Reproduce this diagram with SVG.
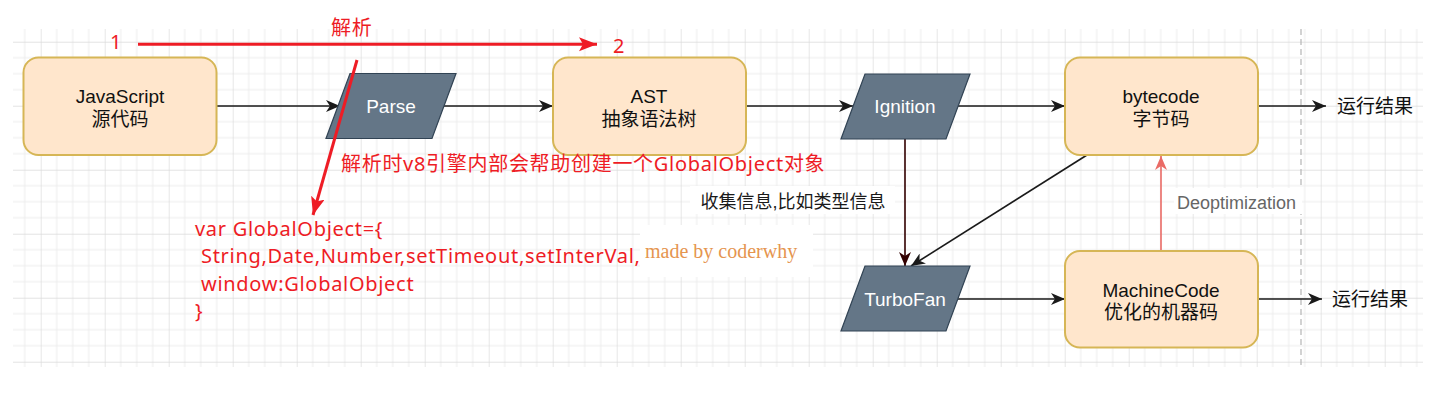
<svg xmlns="http://www.w3.org/2000/svg" width="1449" height="408" viewBox="0 0 1449 408">
<style>
.box{fill:#ffe6cc;stroke:#d6b656;stroke-width:2}
.para{fill:#647687;stroke:#314354;stroke-width:1.2}
.nt{font-family:"Liberation Sans","Noto Sans CJK SC",sans-serif;font-size:19px;fill:#111111;text-anchor:middle}
.wt{font-family:"Liberation Sans",sans-serif;font-size:19px;fill:#ffffff;text-anchor:middle}
.lbl{font-family:"Liberation Sans","Noto Sans CJK SC",sans-serif;font-size:18px;fill:#1a1a1a}
.red{font-family:"Noto Sans","Noto Sans CJK SC",sans-serif;font-size:20px;fill:#ee1c25;letter-spacing:0.7px}
.conn{fill:none;stroke:#1a1a1a;stroke-width:1.6}
.rc{fill:none;stroke:#ee1c25;stroke-width:3}
</style>
<defs>
<pattern id="grid" x="40.7" y="41.7" width="64" height="64" patternUnits="userSpaceOnUse">
<path d="M16,0V64M32,0V64M48,0V64M0,16H64M0,32H64M0,48H64" stroke="#ececec" stroke-width="1" fill="none"/>
<path d="M0,0V64M0,0H64" stroke="#dadada" stroke-width="1.3" fill="none"/>
</pattern>
<marker id="ah" markerUnits="userSpaceOnUse" markerWidth="16" markerHeight="12" refX="14" refY="6" orient="auto">
<path d="M0,0 L14,6 L0,12 L4,6 Z" fill="#1a1a1a"/>
</marker>
<marker id="ahm" markerUnits="userSpaceOnUse" markerWidth="16" markerHeight="12" refX="14" refY="6" orient="auto">
<path d="M0,0 L14,6 L0,12 L4,6 Z" fill="#330000"/>
</marker>
<marker id="ahp" markerUnits="userSpaceOnUse" markerWidth="16" markerHeight="12" refX="14" refY="6" orient="auto">
<path d="M0,0 L14,6 L0,12 L4,6 Z" fill="#ea6b66"/>
</marker>
<marker id="ahr" markerUnits="userSpaceOnUse" markerWidth="20" markerHeight="16" refX="18" refY="7" orient="auto">
<path d="M0,0 L18,7 L0,14 L4,7 Z" fill="#ee1c25"/>
</marker>
</defs>
<rect x="13" y="29" width="1410" height="338" fill="#ffffff"/>
<rect x="13" y="29" width="1410" height="338" fill="url(#grid)"/>
<line x1="1301" y1="29" x2="1301" y2="367" stroke="#b5b5b5" stroke-width="1.2" stroke-dasharray="6,4"/>

<g id="connectors">
<path class="conn" d="M217,106 L340,106" marker-end="url(#ah)"/>
<path class="conn" d="M444,106 L553,106" marker-end="url(#ah)"/>
<path class="conn" d="M746,106 L853,106" marker-end="url(#ah)"/>
<path class="conn" d="M958,106 L1065,106" marker-end="url(#ah)"/>
<path class="conn" d="M1258,106 L1326,106" marker-end="url(#ah)"/>
<path class="conn" d="M905,139 L905,266" style="stroke:#330000" marker-end="url(#ahm)"/>
<path class="conn" d="M1087,155 L911,266" marker-end="url(#ah)"/>
<path class="conn" d="M958,299 L1065,299" marker-end="url(#ah)"/>
<path class="conn" d="M1257,299 L1322,299" marker-end="url(#ah)"/>
<path class="conn" d="M1161,250 L1161,156" style="stroke:#ea6b66" marker-end="url(#ahp)"/>
</g>

<g id="n-js"><rect class="box" x="23.5" y="57.5" width="193" height="97.5" rx="15"/>
<text class="nt" x="120" y="103">JavaScript</text><text class="nt" x="120" y="126">源代码</text></g>
<g id="n-parse"><polygon class="para" points="350,73.5 456,73.5 432,138.5 326,138.5"/>
<text class="wt" x="391" y="113">Parse</text></g>
<g id="n-ast"><rect class="box" x="553" y="57.5" width="193" height="97.5" rx="15"/>
<text class="nt" x="649" y="103">AST</text><text class="nt" x="649" y="126">抽象语法树</text></g>
<g id="n-ignition"><polygon class="para" points="865,74 970,74 946,139 841,139"/>
<text class="wt" x="905" y="113">Ignition</text></g>
<g id="n-bytecode"><rect class="box" x="1065" y="57.5" width="193" height="97.5" rx="15"/>
<text class="nt" x="1161" y="103">bytecode</text><text class="nt" x="1161" y="126">字节码</text></g>
<g id="n-result1"><text class="nt" x="1375" y="113">运行结果</text></g>
<g id="n-turbofan"><polygon class="para" points="865,266 970,266 946,331 841,331"/>
<text class="wt" x="905" y="306">TurboFan</text></g>
<g id="n-machine"><rect class="box" x="1065" y="251" width="193" height="96.5" rx="15"/>
<text class="nt" x="1161" y="297">MachineCode</text><text class="nt" x="1161" y="319">优化的机器码</text></g>
<g id="n-result2"><text class="nt" x="1370" y="306">运行结果</text></g>

<g id="labels">
<rect x="690" y="186" width="205" height="28" fill="#ffffff"/>
<text class="lbl" x="793" y="208" text-anchor="middle">收集信息,比如类型信息</text>
<rect x="1174" y="188" width="128" height="26" fill="#ffffff"/>
<text class="lbl" x="1177" y="209" style="fill:#666666">Deoptimization</text>
</g>

<g id="annotations">
<rect x="640" y="225" width="173" height="52" fill="#ffffff"/>
<path class="rc" d="M138,44.3 L597,44.3" marker-end="url(#ahr)"/>
<path class="rc" d="M357,60 L313,215" marker-end="url(#ahr)"/>
<text class="red" x="116" y="49" text-anchor="middle">1</text>
<text class="red" x="619" y="53" text-anchor="middle">2</text>
<text class="red" x="331" y="35">解析</text>
<text class="red" x="341" y="171">解析时v8引擎内部会帮助创建一个GlobalObject对象</text>
<text class="red" x="195" y="236">var GlobalObject={</text>
<text class="red" x="201" y="263">String,Date,Number,setTimeout,setInterVal,</text>
<text class="red" x="201" y="290.5">window:GlobalObject</text>
<text class="red" x="195" y="318">}</text>
<text x="645" y="258" style="font-family:'Liberation Serif',serif;font-size:20px;fill:#e5954f">made by coderwhy</text>
</g>
</svg>
